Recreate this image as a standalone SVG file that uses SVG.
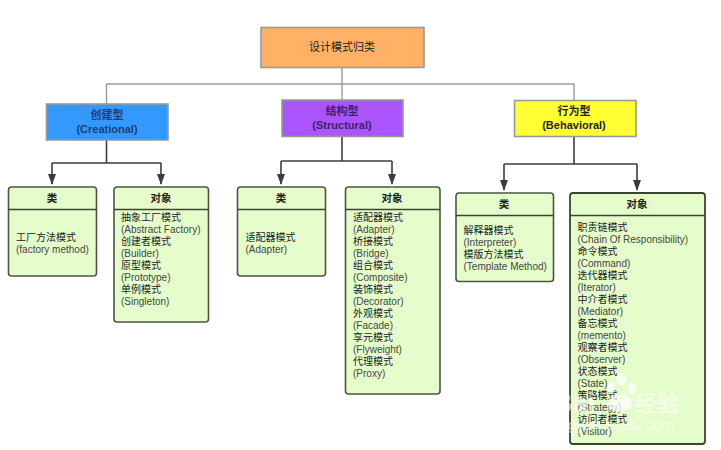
<svg xmlns="http://www.w3.org/2000/svg" width="721" height="450" viewBox="0 0 721 450">
<style>
text{font-family:"Liberation Sans","Noto Sans CJK SC",sans-serif;fill:#222}
.top{stroke:#999;stroke-width:1.6}
.gc{fill:none;stroke:#9a9a9a;stroke-width:1.4}
.dc{fill:none;stroke:#3c3c3c;stroke-width:1.6}
.box{fill:#e5fdcb;stroke:#4a5544;stroke-width:1.6}
.div{stroke:#3a4538;stroke-width:1.3}
.h{font-size:10.5px;text-anchor:middle;font-weight:bold}
.t{font-size:10px}
.en{fill:#444}
.cat{font-size:11px;font-weight:bold;text-anchor:middle}
.mk{fill:#fff;fill-opacity:.7}
.wm{fill:#fff;fill-opacity:.62}
</style>
<defs><marker id="a" markerUnits="userSpaceOnUse" markerWidth="12" markerHeight="8" refX="10" refY="4" orient="auto"><path d="M0 0L11 4L0 8Z" fill="#3c3c3c"/></marker></defs>
<rect width="721" height="450" fill="#fff"/>
<g id="connectors">
<path class="gc" d="M342 67V100M106.500 84H574V100M106.500 84V104"/>
<path class="dc" d="M106.500 140V163"/><path class="dc" d="M52 163H161"/>
<path class="dc" d="M52 163V184" marker-end="url(#a)"/><path class="dc" d="M161 163V184" marker-end="url(#a)"/>
<path class="dc" d="M342 136V161"/><path class="dc" d="M281 161H392"/>
<path class="dc" d="M281 161V184" marker-end="url(#a)"/><path class="dc" d="M392 161V184" marker-end="url(#a)"/>
<path class="dc" d="M574 136V164"/><path class="dc" d="M504 164H637"/>
<path class="dc" d="M504 164V190" marker-end="url(#a)"/><path class="dc" d="M637 164V190" marker-end="url(#a)"/>
</g>
<g id="root"><rect class="top" x="261" y="27.500" width="163" height="40" fill="#ffb266"/><text x="342" y="51" font-size="11" text-anchor="middle">设计模式归类</text></g>
<g id="creational"><rect class="top" x="46.500" y="104" width="121.500" height="36" fill="#3399ff"/><text class="cat" x="107" y="119" style="fill:#1f3f6e">创建型</text><text class="cat" x="107" y="133" style="fill:#1f3f6e">(Creational)</text></g>
<g id="structural"><rect class="top" x="282" y="100" width="121" height="36.500" fill="#aa55ff"/><text class="cat" x="342" y="115" style="fill:#3a2468">结构型</text><text class="cat" x="342" y="129" style="fill:#3a2468">(Structural)</text></g>
<g id="behavioral"><rect class="top" x="514.500" y="100.500" width="121.500" height="36" fill="#ffff33"/><text class="cat" x="574" y="115">行为型</text><text class="cat" x="574" y="129">(Behavioral)</text></g>
<g id="c-class"><rect class="box" x="8.500" y="187" width="88" height="89" rx="3"/><line class="div" x1="8.500" y1="209.500" x2="96.500" y2="209.500"/><text class="h" x="52" y="202">类</text>
<text class="t" x="16" y="241">工厂方法模式</text><text class="t en" x="16" y="252.500">(factory method)</text></g>
<g id="c-object"><rect class="box" x="114" y="187" width="94.500" height="135" rx="3"/><line class="div" x1="114" y1="209.500" x2="208.500" y2="209.500"/><text class="h" x="161" y="202">对象</text>
<text class="t" x="121" y="221">抽象工厂模式</text><text class="t en" x="121" y="233">(Abstract Factory)</text><text class="t" x="121" y="245">创建者模式</text><text class="t en" x="121" y="257">(Builder)</text><text class="t" x="121" y="269">原型模式</text><text class="t en" x="121" y="281">(Prototype)</text><text class="t" x="121" y="293">单例模式</text><text class="t en" x="121" y="305">(Singleton)</text></g>
<g id="s-class"><rect class="box" x="237.500" y="187" width="88" height="89" rx="3"/><line class="div" x1="237.500" y1="209.500" x2="325.500" y2="209.500"/><text class="h" x="281" y="202">类</text>
<text class="t" x="245.500" y="241">适配器模式</text><text class="t en" x="245.500" y="252.500">(Adapter)</text></g>
<g id="s-object"><rect class="box" x="345.500" y="187" width="94.500" height="207" rx="3"/><line class="div" x1="345.500" y1="209.500" x2="440" y2="209.500"/><text class="h" x="392" y="202">对象</text>
<text class="t" x="353" y="221">适配器模式</text><text class="t en" x="353" y="233">(Adapter)</text><text class="t" x="353" y="245">桥接模式</text><text class="t en" x="353" y="257">(Bridge)</text><text class="t" x="353" y="269">组合模式</text><text class="t en" x="353" y="281">(Composite)</text><text class="t" x="353" y="293">装饰模式</text><text class="t en" x="353" y="305">(Decorator)</text><text class="t" x="353" y="317">外观模式</text><text class="t en" x="353" y="329">(Facade)</text><text class="t" x="353" y="341">享元模式</text><text class="t en" x="353" y="353">(Flyweight)</text><text class="t" x="353" y="365">代理模式</text><text class="t en" x="353" y="377">(Proxy)</text></g>
<g id="b-class"><rect class="box" x="456" y="193" width="97.500" height="88.500" rx="3"/><line class="div" x1="456" y1="215.500" x2="553.500" y2="215.500"/><text class="h" x="504" y="208">类</text>
<text class="t" x="463.500" y="234">解释器模式</text><text class="t en" x="463.500" y="246">(Interpreter)</text><text class="t" x="463.500" y="258">模版方法模式</text><text class="t en" x="463.500" y="270">(Template Method)</text></g>
<g id="b-object"><rect class="box" x="570" y="193" width="135" height="251" rx="3" style="stroke:#3a4538;stroke-width:1.8"/><line class="div" x1="570" y1="215.500" x2="705" y2="215.500"/><text class="h" x="637" y="208">对象</text>
<text class="t" x="577.500" y="231">职责链模式</text><text class="t en" x="577.500" y="243">(Chain Of Responsibility)</text><text class="t" x="577.500" y="255">命令模式</text><text class="t en" x="577.500" y="267">(Command)</text><text class="t" x="577.500" y="279">迭代器模式</text><text class="t en" x="577.500" y="291">(Iterator)</text><text class="t" x="577.500" y="303">中介者模式</text><text class="t en" x="577.500" y="315">(Mediator)</text><text class="t" x="577.500" y="327">备忘模式</text><text class="t en" x="577.500" y="339">(memento)</text><text class="t" x="577.500" y="351">观察者模式</text><text class="t en" x="577.500" y="363">(Observer)</text><text class="t" x="577.500" y="375">状态模式</text><text class="t en" x="577.500" y="387">(State)</text><text class="t" x="577.500" y="399">策略模式</text><text class="t en" x="577.500" y="411">(Strategy)</text><text class="t" x="577.500" y="423">访问者模式</text><text class="t en" x="577.500" y="435">(Visitor)</text></g>
<g id="watermark">
<ellipse class="mk" cx="611" cy="388" rx="4" ry="6"/><ellipse class="mk" cx="621" cy="379" rx="5" ry="6.500"/><ellipse class="mk" cx="632" cy="389" rx="4.500" ry="6"/><ellipse class="mk" cx="620" cy="403" rx="12" ry="9"/>
<text class="wm" x="553" y="412" font-size="27" font-weight="bold" style="fill-opacity:.62;fill:#fff">Bai</text>
<text class="wm" x="606" y="411" font-size="16" font-weight="bold" style="fill-opacity:.35;fill:#fff">du</text>
<text class="wm" x="635" y="411" font-size="22" style="fill-opacity:.75;fill:#fff">经验</text>
<text class="wm" x="553" y="430" font-size="15" style="fill-opacity:.6;fill:#fff">jingyan.baidu.com</text>
</g>
</svg>
